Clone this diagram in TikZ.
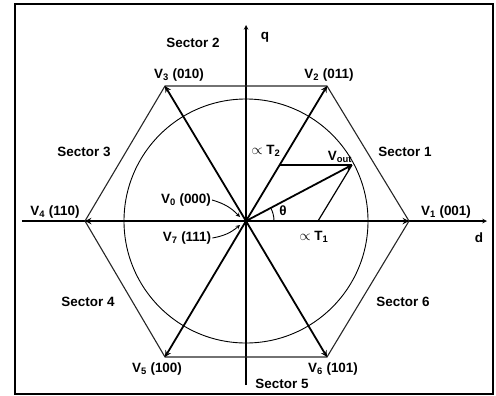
\documentclass[tikz,border=0pt]{standalone}
\usepackage{fontspec}
\setmainfont{Liberation Sans}
\usetikzlibrary{arrows,positioning,calc}

\begin{document}
\begin{tikzpicture}[
    x=1bp, y=1bp,
    axis/.style={-stealth, line width=1.1bp, draw=black},
    vec/.style={-stealth, line width=1.8bp, draw=black},
    hexedge/.style={line width=1.1bp, draw=black!85},
    comp/.style={line width=1.2bp, draw=black},
    lbl/.style={font=\fontsize{13.5}{15}\selectfont\bfseries, inner sep=1bp},
    pointer/.style={-stealth, line width=0.9bp, draw=black},
]

\useasboundingbox (-246,-174) rectangle (250,221);
\draw[line width=1.6bp] (-231,-173) rectangle (247,217);

% Origin and hexagon corners
\coordinate (O) at (0,0);
\coordinate (v1) at (163,0);
\coordinate (v2) at (81,135);
\coordinate (v3) at (-81,135);
\coordinate (v4) at (-161,0);
\coordinate (v5) at (-81,-136);
\coordinate (v6) at (81,-136);

% Axes
\coordinate (dstart) at (-224,0);
\coordinate (dend) at (241,0);
\coordinate (qstart) at (0,-164);
\coordinate (qend) at (0,196);
\draw[axis] (dstart) -- (dend);
\draw[axis] (qstart) -- (qend);

% Circle
\draw[line width=0.9bp] (O) circle (122);

% Hexagon
\draw[hexedge] (v1) -- (v2) -- (v3) -- (v4) -- (v5) -- (v6) -- cycle;

% Active vectors
\draw[vec] (O) -- (v1);
\draw[vec] (O) -- (v2);
\draw[vec] (O) -- (v3);
\draw[vec] (O) -- (v4);
\draw[vec] (O) -- (v5);
\draw[vec] (O) -- (v6);

% Output vector and components
\coordinate (t1) at (72,0);
\coordinate (t2) at (34,56);
\coordinate (vout) at (106,56);
\draw[comp] (t2) -- (vout);
\draw[comp] (t1) -- (vout);
\draw[vec] (O) -- (vout);
\draw[line width=0.9bp] (28,0) arc (0:27.8:28);

% Labels
\node[lbl] (sec2) at (-53,178) {Sector 2};
\node[lbl] (qlbl) at (19,184) {q};
\node[lbl] (lv3) at (-67,146) {V\textsubscript{3} (010)};
\node[lbl] (lv2) at (83,146) {V\textsubscript{2} (011)};
\node[lbl] (sec3) at (-162,69) {Sector 3};
\node[lbl] (sec1) at (159,69) {Sector 1};
\node[lbl] (lt2) at (20,70) {$\propto$ T\textsubscript{2}};
\node[lbl] (lvout) at (94,64) {V\textsubscript{out}};
\node[lbl] (theta) at (37,10) {θ};
\node[lbl] (lt1) at (68,-16) {$\propto$ T\textsubscript{1}};
\node[lbl] (lv0) at (-60,21) {V\textsubscript{0} (000)};
\node[lbl] (lv7) at (-59,-17) {V\textsubscript{7} (111)};
\node[lbl] (lv4) at (-191,9) {V\textsubscript{4} (110)};
\node[lbl] (lv1) at (200,9) {V\textsubscript{1} (001)};
\node[lbl] (dlbl) at (233,-17) {d};
\node[lbl] (sec4) at (-158,-81) {Sector 4};
\node[lbl] (sec6) at (157,-81) {Sector 6};
\node[lbl] (lv5) at (-89,-148) {V\textsubscript{5} (100)};
\node[lbl] (lv6) at (87,-148) {V\textsubscript{6} (101)};
\node[lbl] (sec5) at (36,-163) {Sector 5};

% Zero vector pointers
\draw[pointer] (lv0.east) to[bend left=15] ($(O)+(-6,4)$);
\draw[pointer] (lv7.east) to[bend right=15] ($(O)+(-6,-4)$);

\end{tikzpicture}
\end{document}
